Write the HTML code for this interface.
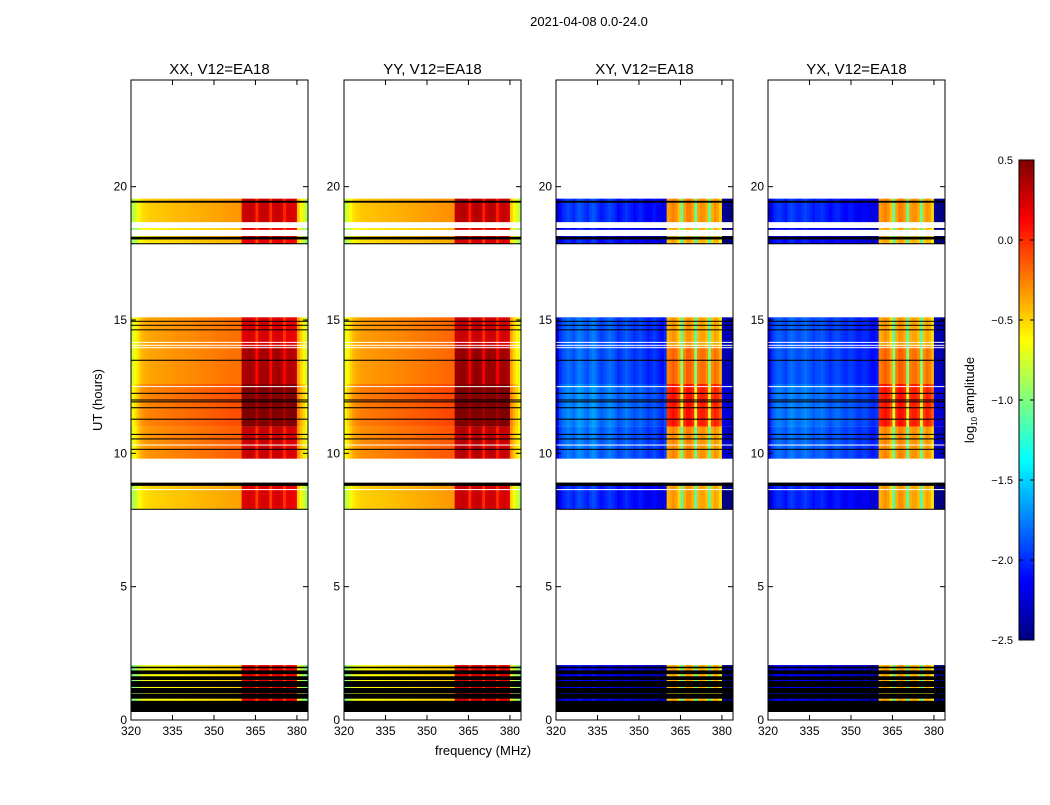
<!DOCTYPE html>
<html><head><meta charset="utf-8"><style>
body{margin:0;background:#fff;font-family:"Liberation Sans",sans-serif;}
svg text{font-family:"Liberation Sans",sans-serif;}
</style></head><body>
<svg id="fig" width="1050" height="800" xmlns="http://www.w3.org/2000/svg">
<rect width="1050" height="800" fill="#fff"/>
<text x="589" y="26" font-size="13" text-anchor="middle">2021-04-08 0.0-24.0</text>
<text x="483" y="755" font-size="13" text-anchor="middle">frequency (MHz)</text>
<text transform="translate(102,400) rotate(-90)" font-size="13" text-anchor="middle">UT (hours)</text>
<text transform="translate(974,400) rotate(-90)" font-size="13" text-anchor="middle">log<tspan font-size="8" dy="3">10</tspan><tspan dy="-3"> amplitude</tspan></text>
<g id="panels"></g>
<g id="cbar"></g>
</svg>
<script>
// ---- data ----
const panelTitles = ["XX, V12=EA18","YY, V12=EA18","XY, V12=EA18","YX, V12=EA18"];
const freqStart = 320; // channel i covers freqStart+i .. +1 MHz
const hotFirst = 40, hotLast = 59; // channel indices of the bright band
const profXX = [-0.75,-0.65,-0.55,-0.45,-0.4,-0.38,-0.36,-0.35,-0.35,-0.34,-0.34,-0.33,-0.33,-0.32,-0.32,-0.31,-0.3,-0.3,-0.3,-0.29,-0.29,-0.28,-0.28,-0.27,-0.27,-0.26,-0.26,-0.25,-0.25,-0.24,-0.24,-0.23,-0.23,-0.22,-0.22,-0.21,-0.21,-0.2,-0.2,-0.2,0.25,0.28,0.3,0.3,0.25,0.0,0.25,0.3,0.3,0.28,0.0,0.25,0.3,0.3,0.25,0.02,0.22,0.25,0.25,0.2,-0.35,-0.5,-0.6,-0.75];
const profYY = [-0.7,-0.6,-0.5,-0.42,-0.38,-0.36,-0.34,-0.33,-0.33,-0.32,-0.32,-0.31,-0.31,-0.3,-0.3,-0.29,-0.29,-0.28,-0.28,-0.27,-0.27,-0.26,-0.26,-0.25,-0.25,-0.24,-0.24,-0.23,-0.23,-0.22,-0.22,-0.21,-0.21,-0.2,-0.2,-0.19,-0.19,-0.18,-0.18,-0.18,0.3,0.33,0.35,0.35,0.3,0.05,0.3,0.35,0.35,0.32,0.05,0.3,0.33,0.33,0.3,0.05,0.26,0.3,0.3,0.25,-0.35,-0.5,-0.6,-0.7];
const profXY = [-2.2,-2.0,-1.9,-1.85,-1.8,-1.85,-1.9,-1.8,-1.75,-1.8,-1.85,-1.9,-1.8,-1.75,-1.8,-1.9,-1.95,-1.9,-1.85,-1.8,-1.85,-1.9,-2.0,-1.95,-1.9,-1.85,-1.9,-1.95,-2.0,-1.95,-1.9,-1.95,-2.0,-2.05,-2.0,-1.95,-2.0,-2.05,-2.1,-2.0,-0.35,-0.3,-0.25,-0.3,-0.45,-1.1,-0.35,-0.25,-0.25,-0.35,-1.1,-0.35,-0.3,-0.3,-0.4,-1.1,-0.4,-0.3,-0.35,-0.5,-2.3,-2.35,-2.35,-2.4];
const profYX = [-2.2,-2.0,-1.9,-1.85,-1.85,-1.9,-1.95,-1.85,-1.8,-1.85,-1.9,-1.9,-1.85,-1.8,-1.85,-1.9,-1.95,-1.9,-1.9,-1.85,-1.9,-1.95,-2.0,-1.95,-1.9,-1.9,-1.95,-2.0,-2.0,-1.95,-1.95,-2.0,-2.05,-2.05,-2.0,-2.0,-2.05,-2.1,-2.1,-2.05,-0.35,-0.3,-0.25,-0.3,-0.45,-1.1,-0.35,-0.25,-0.25,-0.35,-1.1,-0.35,-0.3,-0.3,-0.4,-1.1,-0.4,-0.3,-0.35,-0.5,-2.3,-2.35,-2.35,-2.4];
// data segments (hours) and their offsets (background / bright band)
const segStart  = [18.67,18.38,17.85,14.0,12.6,11.0,9.8,7.9,0.3];
const segEnd    = [19.55,18.45,18.15,15.1,14.0,12.6,11.0,8.9,2.06];
const segOffBg  = [-0.12,-0.25,-0.2,0.0,0.0,0.1,0.05,-0.15,-0.3];
const segOffHot = [0.0,-0.1,-0.1,-0.05,0.1,0.35,0.0,-0.05,-0.1];
// flagged (black) rows
const flagStart = [19.4,18.02,17.84,14.94,14.79,14.62,13.47,12.23,11.98,11.91,11.69,11.26,10.69,10.52,10.13,8.78,7.89,1.94,1.72,1.5,1.24,1.0,0.8,0.3];
const flagEnd   = [19.47,18.12,17.88,14.97,14.82,14.65,13.51,12.27,12.02,11.95,11.73,11.3,10.73,10.56,10.17,8.9,7.92,2.0,1.86,1.64,1.46,1.2,0.98,0.72];
// empty (white) gaps
const gapStart = [14.15,14.04,13.95,12.49,10.3,8.62,0.5];
const gapEnd   = [14.18,14.07,13.98,12.52,10.33,8.66,0.54];
const yTicks = [0,5,10,15,20];
const xTicks = [320,335,350,365,380];
const cbTicks = [0.5,0.0,-0.5,-1.0,-1.5,-2.0,-2.5];
const profiles = [profXX,profYY,profXY,profYX];
// ---- scales ----
const panelX = [131,344,556,768], PW = 177, PT = 80, PB = 720;
const fMin = 320, fMax = 384, tMin = 0, tMax = 24;
const vMin = -2.5, vMax = 0.5;
function xs(p,f){return panelX[p] + (f-fMin)/(fMax-fMin)*PW;}
function ys(t){return PB - (t-tMin)/(tMax-tMin)*(PB-PT);}
function jet(v){
  let x=(v-vMin)/(vMax-vMin); x=Math.max(0,Math.min(1,x));
  const c=t=>Math.round(255*Math.max(0,Math.min(1,t)));
  const r=c(Math.min(4*x-1.5,-4*x+4.5)), g=c(Math.min(4*x-0.5,-4*x+3.5)), b=c(Math.min(4*x+0.5,-4*x+2.5));
  return `rgb(${r},${g},${b})`;
}
const NS="http://www.w3.org/2000/svg";
function mk(tag,attrs,parent){const e=document.createElementNS(NS,tag);for(const k in attrs)e.setAttribute(k,attrs[k]);parent.appendChild(e);return e;}
const G=document.getElementById('panels');
for(let p=0;p<4;p++){
  const g=mk('g',{},G);
  
  
  const hm=mk('g',{},g);
  
  
  const prof=profiles[p];
  for(let r=0;r<segStart.length;r++){
    const y1=ys(segEnd[r]), y2=ys(segStart[r]);
    for(let i=0;i<prof.length;i++){
      const f=freqStart+i;
      const x1=xs(p,f), x2=xs(p,f+1);
      const off=(i>=hotFirst&&i<=hotLast)?segOffHot[r]:segOffBg[r];
      const e=mk('rect',{x:x1,y:y1,width:x2-x1+0.4,height:y2-y1,fill:jet(prof[i]+off)},hm);
      
      
    }
  }
  for(let r=0;r<gapStart.length;r++){
    const y1=ys(gapEnd[r]), y2=ys(gapStart[r]);
    const e=mk('rect',{x:xs(p,fMin),y:y1,width:xs(p,fMax)-xs(p,fMin),height:Math.max(1,y2-y1),fill:'#fff'},hm);
    
    
  }
  for(let r=0;r<flagStart.length;r++){
    const y1=ys(flagEnd[r]), y2=ys(flagStart[r]);
    const e=mk('rect',{x:xs(p,fMin),y:y1,width:xs(p,fMax)-xs(p,fMin),height:Math.max(1,y2-y1),fill:'#000'},hm);
    
    
  }
  const fr=mk('rect',{x:panelX[p],y:PT,width:PW,height:PB-PT,fill:'none',stroke:'#000','stroke-width':1},g);
  
  
  const tt=mk('text',{x:panelX[p]+PW/2,y:74,'font-size':15,'text-anchor':'middle'},g);
  tt.textContent=panelTitles[p];
  
  
  for(const t of yTicks){
    const y=ys(t);
    mk('line',{x1:panelX[p],x2:panelX[p]+5,y1:y,y2:y,stroke:'#000'},g);
    mk('line',{x1:panelX[p]+PW-5,x2:panelX[p]+PW,y1:y,y2:y,stroke:'#000'},g);
    const l=mk('text',{x:panelX[p]-4,y:y+4,'font-size':12,'text-anchor':'end'},g);
    l.textContent=t;
    
    
  }
  for(const f of xTicks){
    const x=xs(p,f);
    mk('line',{x1:x,x2:x,y1:PB,y2:PB-5,stroke:'#000'},g);
    mk('line',{x1:x,x2:x,y1:PT,y2:PT+5,stroke:'#000'},g);
    const l=mk('text',{x:x,y:PB+15,'font-size':12,'text-anchor':'middle'},g);
    l.textContent=f;
    
    
  }
}
// colorbar
const C=document.getElementById('cbar');


const cbX=1019, cbW=15, cbT=160, cbB=640;
const cy=v=>cbB-(v-vMin)/(vMax-vMin)*(cbB-cbT);
for(let k=0;k<120;k++){
  const v0=vMin+k*(vMax-vMin)/120, v1=vMin+(k+1)*(vMax-vMin)/120;
  mk('rect',{x:cbX,y:cy(v1),width:cbW,height:cy(v0)-cy(v1)+0.5,fill:jet((v0+v1)/2)},C);
}
mk('rect',{x:cbX,y:cbT,width:cbW,height:cbB-cbT,fill:'none',stroke:'#000'},C);
for(const v of cbTicks){
  const y=cy(v);
  mk('line',{x1:cbX,x2:cbX+4,y1:y,y2:y,stroke:'#000'},C);
  mk('line',{x1:cbX+cbW-4,x2:cbX+cbW,y1:y,y2:y,stroke:'#000'},C);
  const l=mk('text',{x:1013,y:y+4,'font-size':11,'text-anchor':'end'},C);
  l.textContent=(v<0?'\u2212':'')+Math.abs(v).toFixed(1);
  
  
}
</script>
</body></html>
